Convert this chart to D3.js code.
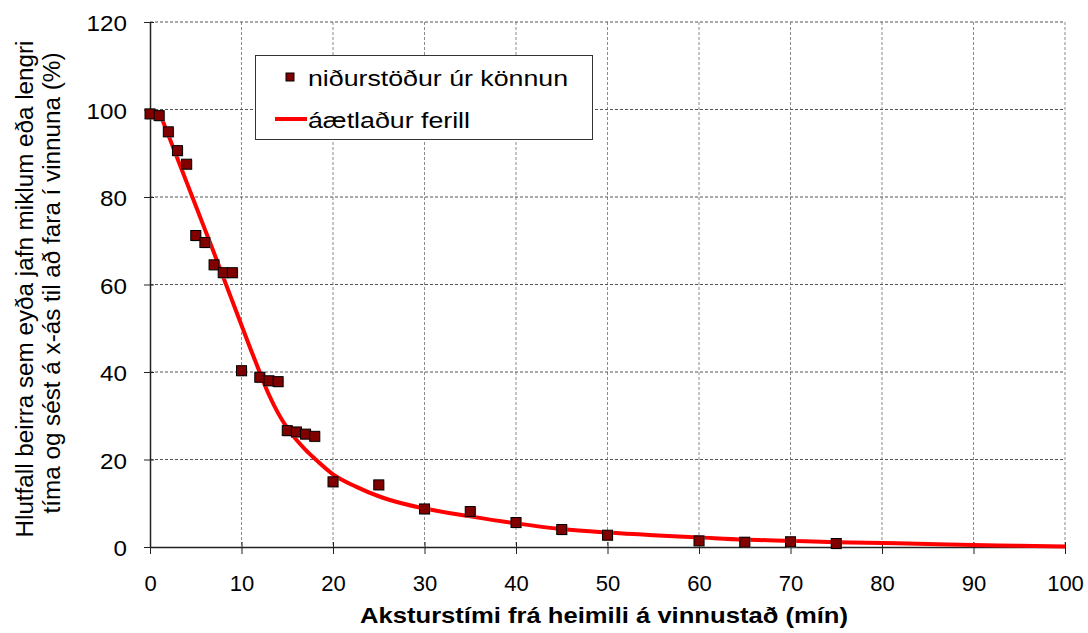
<!DOCTYPE html>
<html>
<head>
<meta charset="utf-8">
<script src="https://cdn.jsdelivr.net/npm/d3@7"></script>
<style>
  html, body { margin: 0; padding: 0; background: #fff; }
  svg { display: block; font-family: "Liberation Sans", Arial, sans-serif; }
</style>
</head>
<body>
<svg id="chart" width="1088" height="633"></svg>
<script>
// Survey results (niðurstöður úr könnun)
const surveyX = [0, 1, 2, 3, 4, 5, 6, 7, 8, 9, 10, 12, 13, 14, 15, 16, 17, 18, 20, 25, 30, 35, 40, 45, 50, 60, 65, 70, 75];
const surveyY = [99.0, 98.6, 94.9, 90.6, 87.5, 71.2, 69.6, 64.5, 62.7, 62.7, 40.3, 38.8, 38.0, 37.8, 26.6, 26.3, 25.8, 25.3, 14.9, 14.2, 8.7, 8.1, 5.6, 4.0, 2.7, 1.4, 1.1, 1.2, 0.8];

// Estimated curve (áætlaður ferill)
const curveX = [1, 2, 3, 4, 5, 6, 7, 8, 9, 10, 11, 12, 13, 14, 15, 16, 17, 18, 20, 22.5, 25, 27.5, 30, 35, 40, 45, 50, 55, 60, 65, 70, 75, 80, 85, 90, 95, 100];
const curveY = [99.5, 94.2, 88.8, 83.4, 78.0, 72.6, 67.2, 61.7, 56.2, 50.7, 45.2, 39.9, 34.8, 30.6, 27.2, 24.5, 22.2, 20.2, 16.6, 13.8, 11.6, 10.0, 8.8, 7.0, 5.4, 4.1, 3.3, 2.7, 2.2, 1.7, 1.4, 1.1, 0.9, 0.7, 0.45, 0.3, 0.1];

const xTicks = [0, 10, 20, 30, 40, 50, 60, 70, 80, 90, 100];
const yTicks = [0, 20, 40, 60, 80, 100, 120];

const legendLabels = ["niðurstöður úr könnun", "áætlaður ferill"];
const xTitle = "Aksturstími frá heimili á vinnustað (mín)";
const yTitleLines = ["Hlutfall beirra sem eyða jafn miklum eða lengri", "tíma og sést á x-ás til að fara í vinnuna (%)"];

const svg = d3.select("#chart");
const pLeft = 150, pRight = 1065, pTop = 22, pBottom = 547;

const x = d3.scaleLinear().domain([0, 100]).range([pLeft, pRight]);
const y = d3.scaleLinear().domain([0, 120]).range([pBottom, pTop]);

// Grid lines
const grid = svg.append("g");
grid.selectAll("line.v").data(xTicks.filter(d => d > 0)).enter().append("line")
  .attr("x1", d => x(d)).attr("x2", d => x(d))
  .attr("y1", pTop).attr("y2", pBottom)
  .attr("stroke", "#8a8a8a").attr("stroke-width", 1).attr("stroke-dasharray", "3,2");
grid.selectAll("line.h").data(yTicks.filter(d => d > 0)).enter().append("line")
  .attr("x1", pLeft).attr("x2", pRight)
  .attr("y1", d => y(d)).attr("y2", d => y(d))
  .attr("stroke", "#555").attr("stroke-width", 1).attr("stroke-dasharray", "3,2");

// Axes
const xAxis = d3.axisBottom(x).tickValues(xTicks).tickSizeInner(6).tickSizeOuter(0).tickPadding(22);
const gx = svg.append("g").attr("transform", `translate(0,${pBottom})`).call(xAxis);
gx.select(".domain").attr("stroke", "#222").attr("stroke-width", 1.5);
gx.selectAll(".tick line").attr("stroke", "#222").attr("y1", -5).attr("y2", 7);
gx.selectAll(".tick text").attr("font-size", 22).attr("fill", "#000")
  .attr("font-family", "Liberation Sans, Arial, sans-serif");

const yAxis = d3.axisLeft(y).tickValues(yTicks).tickSizeInner(6).tickSizeOuter(0).tickPadding(16);
const gy = svg.append("g").attr("transform", `translate(${pLeft},0)`).call(yAxis);
gy.select(".domain").attr("stroke", "#222").attr("stroke-width", 1.5);
gy.selectAll(".tick line").attr("stroke", "#222").attr("x1", -6).attr("x2", 4);
gy.selectAll(".tick text").attr("font-size", 22).attr("fill", "#000")
  .attr("font-family", "Liberation Sans, Arial, sans-serif")
  .attr("x", -21).attr("dy", "0.4em").attr("transform", "scale(1.1,1)");

// Fitted curve
const curveData = curveX.map((d, i) => [d, curveY[i]]);
const line = d3.line().x(d => x(d[0])).y(d => y(d[1])).curve(d3.curveMonotoneX);
svg.append("path").datum(curveData)
  .attr("d", line).attr("fill", "none")
  .attr("stroke", "#ff0000").attr("stroke-width", 4)
  .attr("stroke-linejoin", "round");

// Survey markers
const pts = surveyX.map((d, i) => [d, surveyY[i]]);
const ms = 10;
svg.append("g").selectAll("rect.sh").data(pts).enter().append("rect")
  .attr("x", d => x(d[0]) - ms / 2 + 1).attr("y", d => y(d[1]) - ms / 2 + 1)
  .attr("width", ms).attr("height", ms)
  .attr("fill", "#aaa").attr("opacity", 0.6);
svg.append("g").selectAll("rect.m").data(pts).enter().append("rect")
  .attr("x", d => x(d[0]) - ms / 2).attr("y", d => y(d[1]) - ms / 2)
  .attr("width", ms).attr("height", ms)
  .attr("fill", "#800000").attr("stroke", "#000").attr("stroke-width", 1);

// Legend
const lg = svg.append("g");
lg.append("rect").attr("x", 255.5).attr("y", 55.5).attr("width", 337).attr("height", 84)
  .attr("fill", "#fff").attr("stroke", "#333").attr("stroke-width", 1);
lg.append("rect").attr("x", 286).attr("y", 73).attr("width", 8).attr("height", 8)
  .attr("fill", "#800000").attr("stroke", "#000").attr("stroke-width", 1);
lg.append("text").attr("x", 308).attr("y", 86).attr("font-size", 22).attr("fill", "#000")
  .attr("textLength", 260).attr("lengthAdjust", "spacingAndGlyphs")
  .text(legendLabels[0]);
lg.append("line").attr("x1", 275).attr("x2", 307).attr("y1", 119).attr("y2", 119)
  .attr("stroke", "#ff0000").attr("stroke-width", 4);
lg.append("text").attr("x", 308).attr("y", 128).attr("font-size", 22).attr("fill", "#000")
  .attr("textLength", 162).attr("lengthAdjust", "spacingAndGlyphs")
  .text(legendLabels[1]);

// Axis titles
svg.append("text").attr("x", 360).attr("y", 623)
  .attr("font-size", 22).attr("font-weight", "bold")
  .attr("textLength", 488).attr("lengthAdjust", "spacingAndGlyphs")
  .attr("fill", "#000").text(xTitle);

const yTitleLens = [497, 461];
const yTitleCenters = [289, 283];
const yTitleBase = [33, 60];
svg.append("g").attr("transform", "rotate(-90)")
  .selectAll("text").data(yTitleLines).enter().append("text")
  .attr("x", (d, i) => -(yTitleCenters[i] + yTitleLens[i] / 2))
  .attr("y", (d, i) => yTitleBase[i])
  .attr("font-size", 23).attr("fill", "#000")
  .attr("textLength", (d, i) => yTitleLens[i]).attr("lengthAdjust", "spacingAndGlyphs")
  .text(d => d);
</script>
</body>
</html>
